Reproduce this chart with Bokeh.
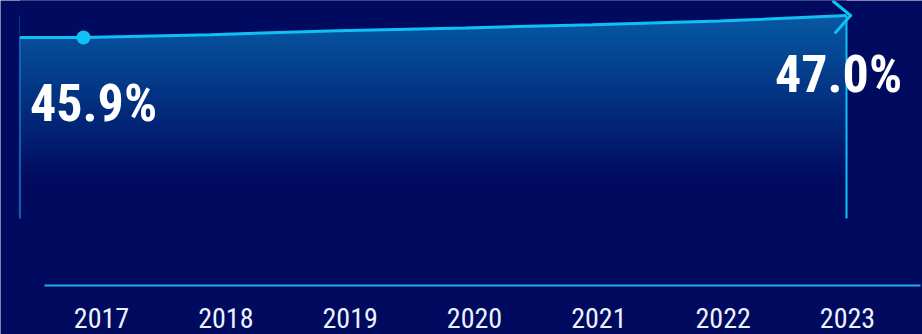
import numpy as np
from bokeh.plotting import figure
from bokeh.models import Range1d
from bokeh.core.properties import value
from bokeh.embed import file_html
from bokeh.resources import INLINE

# ---- data ----
years = [2017, 2018, 2019, 2020, 2021, 2022, 2023]
year_labels = ["2017", "2018", "2019", "2020", "2021", "2022", "2023"]
share = [45.9, 46.04, 46.24, 46.38, 46.54, 46.72, 47.0]
first_label = "45.9%"
last_label = "47.0%"

# ---- style / layout ----
BG = "#000a5f"
CYAN = "#10c0f5"
AXIS_C = "#1aaeea"
TOP_C = (6, 89, 163)
FONT = "Roboto Condensed, Roboto"
W, FH = 922, 334
PX_X = 127.17          # px per year (plot)
PX_Y = 20.0            # px per percentage point
X0 = years[0] - 83 / PX_X
Y1 = share[-1] + 15 / PX_Y
Y0 = Y1 - FH / PX_Y
AREA_START = years[0] - 0.5
BASE = Y1 - 218 / PX_Y

p = figure(frame_width=W, frame_height=FH, min_border=0,
           x_range=Range1d(X0, X0 + W / PX_X), y_range=Range1d(Y0, Y1),
           output_backend="svg", toolbar_location=None,
           background_fill_color=BG, border_fill_color=BG, outline_line_color=None,
           x_axis_type=None, y_axis_type=None)

# label scale on its own range
LPX = 124.33
L0 = years[0] - 101 / LPX
p.extra_x_ranges = {"lbl": Range1d(L0, L0 + W / LPX)}

# axis baseline
p.segment(x0=[L0 + 44 / LPX], x1=[L0 + 920 / LPX], y0=[Y1 - 285 / PX_Y], y1=[Y1 - 285 / PX_Y],
          x_range_name="lbl", line_color=AXIS_C, line_width=2)
# year labels
p.text(x=years, y=[Y1 - 328 / PX_Y] * len(years), text=year_labels, x_range_name="lbl",
       y_offset=-11, text_align="center", text_baseline="alphabetic", text_color="#eef2ff",
       text_font=value(FONT), text_font_size="28px")

# gradient fill as overlapping bands
lx = [AREA_START] + years
ly = [share[0]] + share
n = 55
px_edges = np.linspace(15, 180, n + 1)
bg_rgb = (0, 10, 95)
cols = []
for i in range(n):
    t = (i + 0.5) / n
    c = tuple(int(round(TOP_C[k] * (1 - t) + bg_rgb[k] * t)) for k in range(3))
    cols.append("#%02x%02x%02x" % c)
p.quad(left=AREA_START, right=years[-1], top=Y1 - px_edges[:-1] / PX_Y,
       bottom=Y1 - (px_edges[1:] + 2) / PX_Y, fill_color=cols, line_color=cols, line_width=1)
# mask above the line
p.varea(x=lx, y1=ly, y2=[Y1 + 1] * len(lx), fill_color=BG)

# edges
p.segment(x0=[AREA_START], x1=[AREA_START], y0=[BASE], y1=[ly[0]], line_color="#1660b4", line_width=2)
p.segment(x0=[years[-1]], x1=[years[-1]], y0=[BASE], y1=[share[-1]], line_color=CYAN, line_width=2)

# main line
p.line(lx, ly, line_color=CYAN, line_width=3)

# arrow head
tipx = years[-1] + 4 / PX_X
tipy = share[-1]
p.segment(x0=[tipx - 17 / PX_X, tipx - 15 / PX_X], y0=[tipy + 14 / PX_Y, tipy - 17 / PX_Y],
          x1=[tipx, tipx], y1=[tipy, tipy], line_color=CYAN, line_width=3, line_cap="round")

# start dot
p.scatter([years[0]], [share[0]], size=14, fill_color=CYAN, line_color=None)

# value labels
for x, y, t, dx, dy in [(years[0], share[0], first_label, 10, 66),
                        (years[-1], share[-1], last_label, -8, 59)]:
    p.text(x=[x], y=[y], text=[t], x_offset=dx, y_offset=dy,
           text_align="center", text_baseline="alphabetic", text_color="white",
           text_font=value(FONT), text_font_style="bold", text_font_size="52px")

html = file_html(p, INLINE)
html = html.replace("<body>", '<body style="margin:0;background:%s">' % BG, 1)
open("out.html", "w").write(html)
